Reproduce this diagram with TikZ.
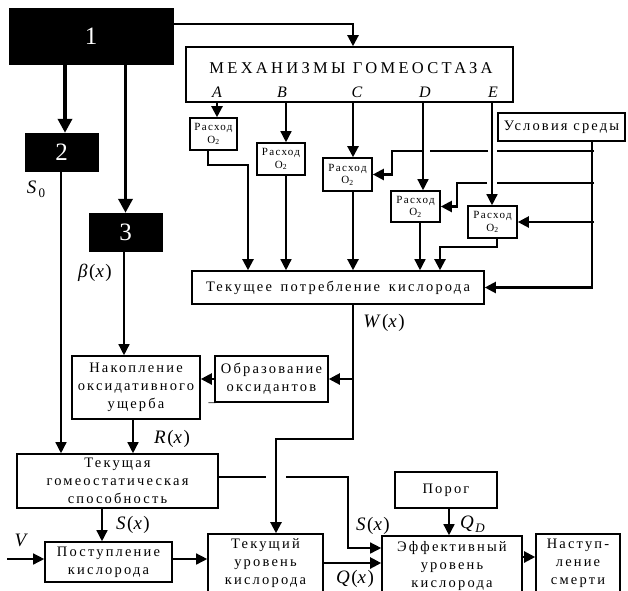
\documentclass[tikz,border=0pt]{standalone}
\usepackage{fontspec}
\setmainfont{Liberation Serif}
\newfontfamily\lsp[LetterSpace=15]{Liberation Serif}
\newfontfamily\lspw[LetterSpace=20]{Liberation Serif}
\newfontfamily\lspr[LetterSpace=12]{Liberation Serif}
\newfontfamily\lspm[LetterSpace=8]{Liberation Serif}
\usetikzlibrary{arrows.meta}
\begin{document}
\begin{tikzpicture}[x=1pt,y=-1pt,
  bx/.style={draw, line width=1.6pt, inner sep=0pt, align=center, font=\fontsize{14.5}{18}\selectfont\lsp},
  blk/.style={fill=black, draw=black, inner sep=0pt, text=white, font=\fontsize{25}{25}\selectfont},
  rbox/.style={draw, line width=1.6pt, inner sep=0pt, align=center, font=\fontsize{11}{12.5}\selectfont\lspr},
  ln/.style={line width=1.4pt},
  lnb/.style={line width=2.2pt},
  lnx/.style={line width=3.8pt},
  arr/.style={-{Triangle[length=11pt,width=11pt]}},
  arrB/.style={-{Triangle[length=14pt,width=14pt]}},
  lab/.style={inner sep=0pt, font=\fontsize{19}{19}\selectfont\lspm},
  letr/.style={inner sep=0pt, font=\fontsize{16}{16}\selectfont},
]
\useasboundingbox (0,0) rectangle (628,590);

% black boxes
\node[blk, minimum width=164pt, minimum height=56pt] (b1) at (91,36) {1};
\node[blk, minimum width=73pt, minimum height=38pt] (b2) at (61.5,152) {2};
\node[blk, minimum width=73pt, minimum height=38pt] (b3) at (125.5,232) {3};

% mechanisms
\node[draw, line width=1.6pt, minimum width=327pt, minimum height=55pt, inner sep=0pt] (mech) at (349.5,74.5) {};
\node[inner sep=0pt, font=\fontsize{16.5}{18}\selectfont\lspw] (mt) at (351,68) {МЕХАНИЗМЫ ГОМЕОСТАЗА};
\node[letr] (lA) at (217,92) {\textit{A}};
\node[letr] (lB) at (282,92) {\textit{B}};
\node[letr] (lC) at (357,92) {\textit{C}};
\node[letr] (lD) at (425,92) {\textit{D}};
\node[letr] (lE) at (493,92) {\textit{E}};

\node[rbox, minimum width=47pt, minimum height=32pt] (rA) at (213.5,134) {Расход\\O\textsubscript{2}};
\node[rbox, minimum width=48pt, minimum height=32pt] (rB) at (281,159) {Расход\\O\textsubscript{2}};
\node[rbox, minimum width=49pt, minimum height=33pt] (rC) at (347.5,174.5) {Расход\\O\textsubscript{2}};
\node[rbox, minimum width=49pt, minimum height=31pt] (rD) at (415.5,206.5) {Расход\\O\textsubscript{2}};
\node[rbox, minimum width=49pt, minimum height=32pt] (rE) at (492.5,222) {Расход\\O\textsubscript{2}};

\node[bx, minimum width=127pt, minimum height=28pt] (env) at (561.5,127) {Условия среды};
\node[bx, minimum width=292pt, minimum height=33pt] (cons) at (338,287.5) {Текущее\hspace{3pt} потребление\hspace{3pt} кислорода};
\node[bx, minimum width=128pt, minimum height=63pt] (nak) at (136,387.5) {Накопление\\оксидативного\\ущерба};
\node[bx, minimum width=113pt, minimum height=46pt] (obr) at (271.5,379) {Образование\\оксидантов};
\node[bx, minimum width=201pt, minimum height=54pt] (hom) at (117.5,481) {Текущая\\гомеостатическая\\способность};
\node[bx, minimum width=127pt, minimum height=40pt] (post) at (108.5,562) {Поступление\\кислорода};
\node[bx, minimum width=115pt, minimum height=58pt] (cur) at (265.5,563) {Текущий\\уровень\\кислорода};
\node[bx, minimum width=140pt, minimum height=60pt] (eff) at (452,566) {Эффективный\\уровень\\кислорода};
\node[bx, minimum width=102pt, minimum height=36pt] (por) at (446,490) {Порог};
\node[bx, minimum width=84pt, minimum height=58pt] (nas) at (578,563) {Наступ-\\ление\\смерти};

% connectors top
\draw[lnb, arr] (b1.east |- 0,24) -| (353,0 |- mech.north);
\draw[lnx, arrB] (65,0 |- b1.south) -- (65,0 |- b2.north);
\draw[lnx, arrB] (b3.north |- b1.south) -- (b3.north);
\draw[ln, arr] (61,0 |- b2.south) -- (61,0 |- hom.north);
\draw[ln, arr] (124,0 |- b3.south) -- (124,0 |- nak.north);

\draw[lnb, arr] (217,0 |- mech.south) -- (217,0 |- rA.north);
\draw[lnb, arr] (208,0 |- rA.south) |- (248,165) -- (248,0 |- cons.north);
\draw[ln, arr] (286,0 |- mech.south) -- (286,0 |- rB.north);
\draw[ln, arr] (286,0 |- rB.south) -- (286,0 |- cons.north);
\draw[lnb, arr] (353,0 |- mech.south) -- (353,0 |- rC.north);
\draw[lnb, arr] (353,0 |- rC.south) -- (353,0 |- cons.north);
\draw[ln, arr] (423,0 |- mech.south) -- (423,0 |- rD.north);
\draw[ln, arr] (420,0 |- rD.south) -- (420,0 |- cons.north);
\draw[ln, arr] (492,0 |- mech.south) -- (492,0 |- rE.north);
\draw[lnb, arr] (497,0 |- rE.south) |- (440,247) -- (440,0 |- cons.north);

% environment
\draw[lnb, arr] (592,0 |- env.south) |- (cons.east);
\draw[lnb] (594,151) -- (497,151);
\draw[lnb] (488,151) -- (430,151);
\draw[lnb, arr] (422,151) -- (392,151) |- (rC.east);
\draw[lnb] (594,183) -- (497,183);
\draw[lnb, arr] (487,183) -- (457,183) |- (rD.east);
\draw[lnb, arr] (594,0 |- rE.east) -- (rE.east);

% W(x)
\draw[lnb, arr] (353,0 |- cons.south) |- (276,439) -- (276,0 |- cur.north);
\draw[lnb, arr] (353,0 |- obr.east) -- (obr.east);
\draw[lnb, arr] (obr.west) -- (obr.west -| nak.east);
\draw[ln, arr] (133,0 |- nak.south) -- (133,0 |- hom.north);

% S(x)
\draw[ln] (hom.east |- 0,477) -- (266,477);
\draw[ln, arr] (286,477) -- (348,477) |- (eff.west |- 0,548);
\draw[ln, arr] (102,0 |- hom.south) -- (102,0 |- post.north);

\coordinate (vin) at (7,559);
\draw[ln, arr] (vin) -- (vin -| post.west);
\draw[ln, arr] (post.east |- vin) -- (cur.west |- vin);
\draw[lnb, arr] (cur.east |- 0,563) -- (eff.west |- 0,563);
\draw[ln, arr] (449,0 |- por.south) -- (449,0 |- eff.north);
\draw[lnb, arr] (eff.east |- 0,557) -- (nas.west |- 0,557);

% labels
\node[lab] (s0) at (36,189) {\textit{S}\kern0.5pt\raisebox{-4pt}{\fontsize{13}{13}\selectfont 0}};
\node[lab] (beta) at (95,273) {\textit{β}(\textit{x})};
\node[lab] (wx) at (384,323) {\textit{W}(\textit{x})};
\node[lab] (rlab) at (172,439) {\textit{R}(\textit{x})};
\node[lab] (sx1) at (133,525) {\textit{S}(\textit{x})};
\node[lab] (sx2) at (373,526) {\textit{S}(\textit{x})};
\node[lab] (qd) at (473,524) {\textit{Q}\raisebox{-4pt}{\fontsize{13}{13}\selectfont\textit{D}}};
\node[lab] (qx) at (355,579) {\textit{Q}(\textit{x})};
\node[lab] (vv) at (22,540) {\textit{V}};
\node[inner sep=0pt, font=\fontsize{14}{14}\selectfont] (minus) at (212,405) {–};
\end{tikzpicture}
\end{document}
